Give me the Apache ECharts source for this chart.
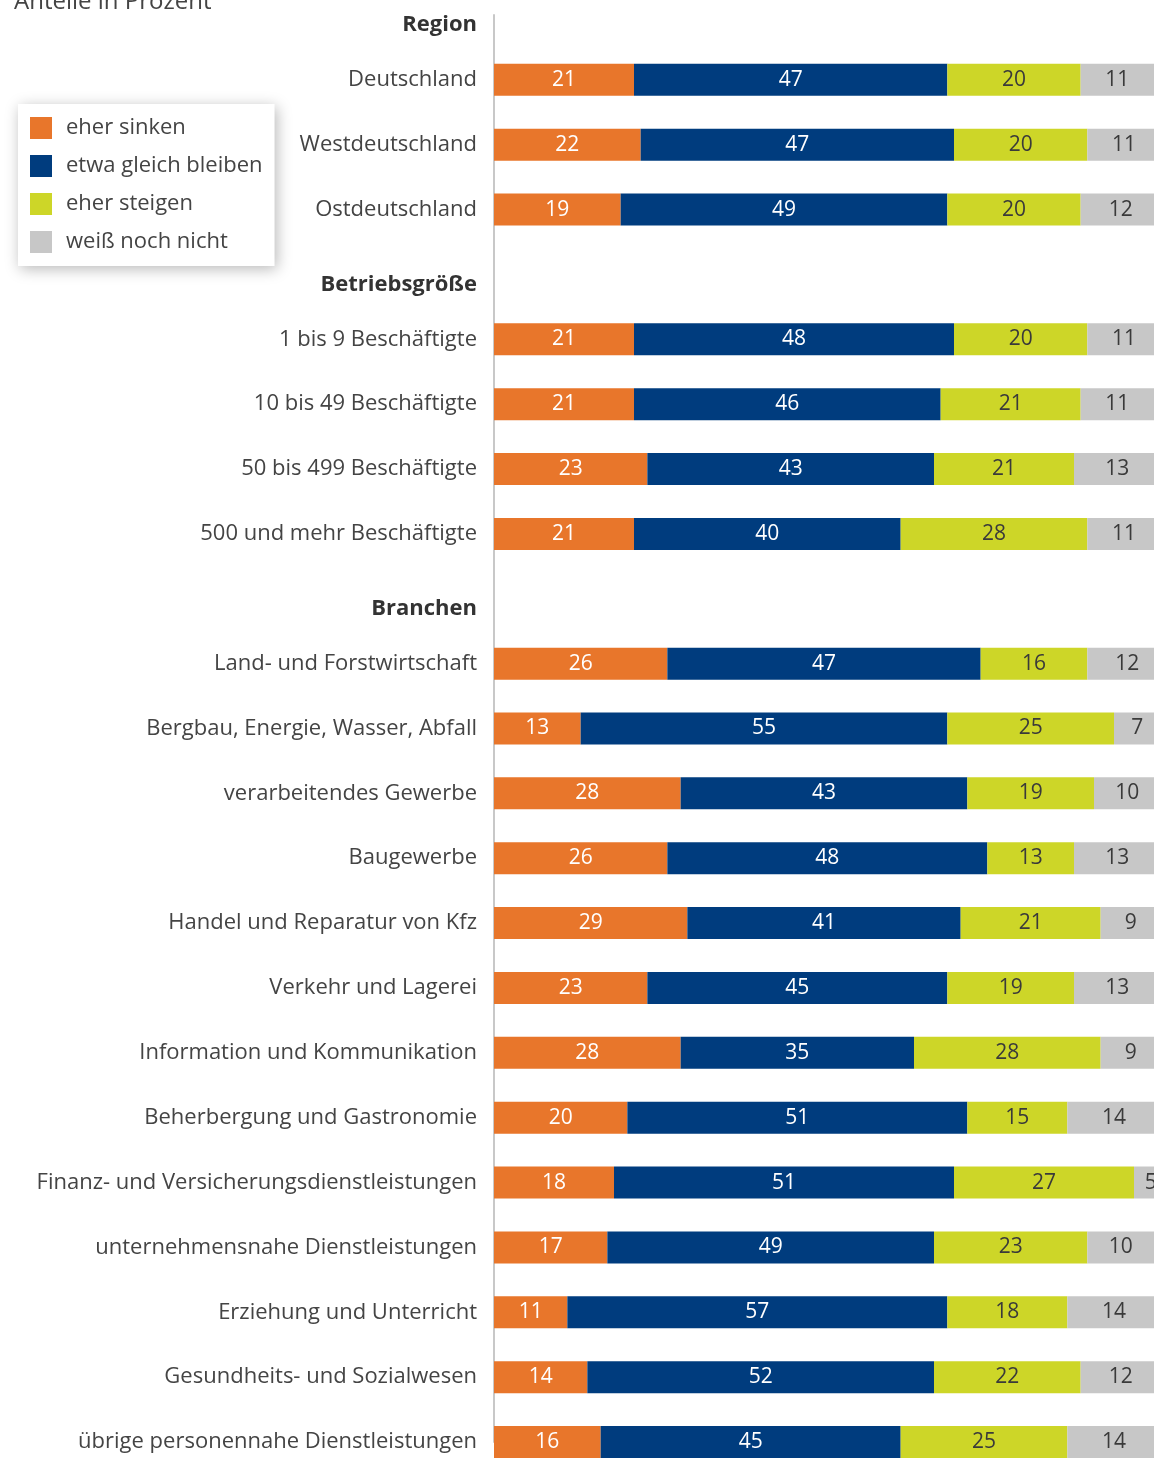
<!DOCTYPE html>
<html>
<head>
<meta charset="utf-8">
<script src="https://cdn.jsdelivr.net/npm/echarts@6/dist/echarts.min.js"></script>
<style>
  html, body { margin: 0; padding: 0; background: #fff; }
  #chart { width: 1154px; height: 1461px; }
</style>
</head>
<body>
<div id="chart"></div>
<script>
// Zeilen von oben nach unten, Überschriften als leere Zeilen
const categories = [
  'Region', 'Deutschland', 'Westdeutschland', 'Ostdeutschland',
  'Betriebsgröße', '1 bis 9 Beschäftigte', '10 bis 49 Beschäftigte', '50 bis 499 Beschäftigte', '500 und mehr Beschäftigte',
  'Branchen', 'Land- und Forstwirtschaft', 'Bergbau, Energie, Wasser, Abfall', 'verarbeitendes Gewerbe', 'Baugewerbe',
  'Handel und Reparatur von Kfz', 'Verkehr und Lagerei', 'Information und Kommunikation', 'Beherbergung und Gastronomie',
  'Finanz- und Versicherungsdienstleistungen', 'unternehmensnahe Dienstleistungen', 'Erziehung und Unterricht',
  'Gesundheits- und Sozialwesen', 'übrige personennahe Dienstleistungen'
];
const headers = ['Region', 'Betriebsgröße', 'Branchen'];

const eherSinken =    ['-', 21, 22, 19, '-', 21, 21, 23, 21, '-', 26, 13, 28, 26, 29, 23, 28, 20, 18, 17, 11, 14, 16];
const gleichBleiben = ['-', 47, 47, 49, '-', 48, 46, 43, 40, '-', 47, 55, 43, 48, 41, 45, 35, 51, 51, 49, 57, 52, 45];
const eherSteigen =   ['-', 20, 20, 20, '-', 20, 21, 21, 28, '-', 16, 25, 19, 13, 21, 19, 28, 15, 27, 23, 18, 22, 25];
const weissNicht =    ['-', 11, 11, 12, '-', 11, 11, 13, 11, '-', 12, 7, 10, 13, 9, 13, 9, 14, 5, 10, 14, 12, 14];

const seriesNames = ['eher sinken', 'etwa gleich bleiben', 'eher steigen', 'weiß noch nicht'];
const colors = ['#e8762b', '#003c7e', '#cdd628', '#c7c7c7'];
const labelColors = ['#ffffff', '#ffffff', '#3a3a3a', '#3a3a3a'];

const FONT = '"Open Sans", sans-serif';

const chart = echarts.init(document.getElementById('chart'));

chart.setOption({
  backgroundColor: '#ffffff',
  animation: false,
  title: {
    text: 'Anteile in Prozent',
    left: 9,
    top: -15,
    textStyle: { fontFamily: FONT, fontSize: 24, fontWeight: 'normal', color: '#444' }
  },
  legend: {
    orient: 'vertical',
    left: 18,
    top: 104,
    padding: [13, 12, 13, 12],
    itemGap: 16,
    itemWidth: 22,
    itemHeight: 22,
    icon: 'rect',
    backgroundColor: '#fff',
    shadowBlur: 14,
    shadowColor: 'rgba(0,0,0,0.28)',
    shadowOffsetX: 2,
    shadowOffsetY: 3,
    textStyle: { fontFamily: FONT, fontSize: 22, color: '#444', padding: [0, 0, 0, 9] },
    data: seriesNames
  },
  grid: {
    left: 494,
    top: 15,
    width: 660,
    height: 1427
  },
  xAxis: {
    type: 'value',
    min: 0,
    max: 99,
    show: false
  },
  yAxis: {
    type: 'category',
    inverse: true,
    boundaryGap: false,
    data: categories,
    axisLine: { show: true, lineStyle: { color: '#c8c8c8', width: 2 } },
    axisTick: { show: false },
    axisLabel: {
      margin: 17,
      fontFamily: FONT,
      fontSize: 22,
      color: '#444',
      formatter: function (v) {
        return headers.indexOf(v) >= 0 ? '{h|' + v + '}' : v;
      },
      rich: {
        h: { fontFamily: FONT, fontSize: 22, fontWeight: 'bold', color: '#333', padding: [20, 0, 0, 0] }
      }
    }
  },
  series: [eherSinken, gleichBleiben, eherSteigen, weissNicht].map(function (vals, i) {
    return {
      name: seriesNames[i],
      type: 'bar',
      stack: 'total',
      barWidth: 32,
      clip: false,
      data: vals,
      itemStyle: { color: colors[i] },
      label: {
        show: true,
        position: 'inside',
        fontFamily: FONT,
        fontSize: 21,
        color: labelColors[i]
      }
    };
  })
});
</script>
</body>
</html>
